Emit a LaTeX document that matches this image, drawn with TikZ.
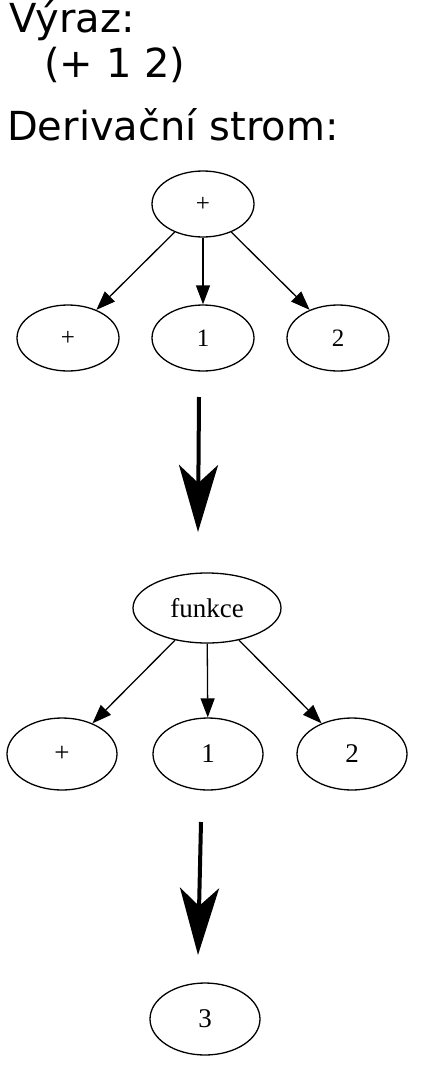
\documentclass[tikz,border=0pt]{standalone}
\usepackage{fontspec}
\setmainfont{DejaVu Sans}
\newfontfamily\gvfont{Liberation Serif}
\usetikzlibrary{shapes.geometric,arrows.meta}
\tikzset{
  lbl/.style={anchor=base west, inner sep=0pt, font=\fontsize{40}{48}\selectfont},
  gnode/.style={ellipse, draw, line width=1.3pt, inner sep=0pt},
  small/.style={gnode, minimum width=102pt, minimum height=66pt, font=\gvfont\fontsize{25}{30}\selectfont},
  big/.style={gnode, minimum width=110pt, minimum height=72pt, font=\gvfont\fontsize{27}{32}\selectfont},
  bigroot/.style={gnode, minimum width=148pt, minimum height=70pt, font=\gvfont\fontsize{27}{32}\selectfont},
  edge/.style={line width=1.3pt, -{Triangle[length=19pt,width=14pt]}},
  bigarrow/.style={line width=4pt, -{Stealth[length=67pt 0 0,width=39pt 0 0,inset=18pt 0]}}
}
\begin{document}
\begin{tikzpicture}[x=1pt,y=-1pt]
\useasboundingbox (0,0) rectangle (434,1068);
\node[lbl] (t1) at (9,32) {Výraz:};
\node[lbl] (t2) at (44,77) {(+ 1 2)};
\node[lbl] (t3) at (7,140) {Derivační strom:};
% tree 1
\node[small] (r1) at (203,204) {+};
\node[small] (a1) at (68,338) {+};
\node[small] (b1) at (203,338) {1};
\node[small] (c1) at (338,338) {2};
\draw[edge] (r1) -- (a1);
\draw[edge] (r1) -- (b1);
\draw[edge] (r1) -- (c1);
% arrow 1
\coordinate (p1s) at (199,397);
\coordinate (p1e) at (198,532);
\draw[bigarrow] (p1s) -- (p1e);
% tree 2
\node[bigroot] (r2) at (207,608) {funkce};
\node[big] (a2) at (62,754) {+};
\node[big] (b2) at (208,754) {1};
\node[big] (c2) at (352,754) {2};
\draw[edge] (r2) -- (a2);
\draw[edge] (r2) -- (b2);
\draw[edge] (r2) -- (c2);
% arrow 2
\coordinate (p2s) at (201,822);
\coordinate (p2e) at (198,955);
\draw[bigarrow] (p2s) -- (p2e);
% result
\node[big] (res) at (205,1019) {3};
\end{tikzpicture}
\end{document}
